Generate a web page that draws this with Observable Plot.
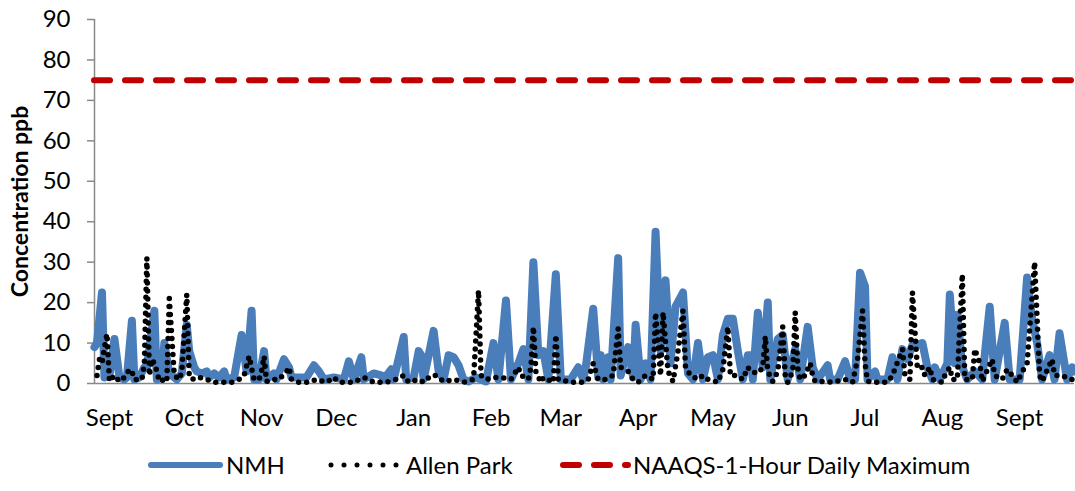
<!DOCTYPE html>
<html><head><meta charset="utf-8">
<script src="https://cdn.jsdelivr.net/npm/d3@7"></script>
<script src="https://cdn.jsdelivr.net/npm/@observablehq/plot@0.6"></script>
<style>
body{margin:0;background:#fff;font-family:Lato,sans-serif;}
#chart svg{display:block}
svg [aria-label="y-axis label"] text{font-weight:700;font-size:23px}
.legend{position:relative;height:51px;width:1075px;font-size:24px;color:#000;font-family:Lato,sans-serif}
.legend .it{position:absolute;top:10px;line-height:30px;white-space:nowrap}
.legend svg{position:absolute;top:11px}
</style></head><body>
<div id="chart"></div>
<div class="legend" id="legend"></div>
<script>
// x = day offset from Aug 26
const monthLabels = ["Sept","Oct","Nov","Dec","Jan","Feb","Mar","Apr","May","Jun","Jul","Aug","Sept"];
const monthDays = [6,36,67,97,128,159,187,218,248,279,309,340,371];
const yTicks = [0,10,20,30,40,50,60,70,80,90];
const seriesNames = ["NMH","Allen Park","NAAQS-1-Hour Daily Maximum"];

const nmhDay = [0,1,3,4,6,8,10,12,13,15,16,18,20,21,24,25,27,28,30,31,33,35,37,38,40,41,43,45,46,48,50,52,53,56,59,61,63,64,66,68,69,72,73,76,78,79,83,85,88,90,92,96,100,102,104,107,108,112,115,116,119,120,124,125,128,130,131,132,136,138,140,142,144,146,148,150,153,157,160,162,165,167,170,172,174,176,178,180,182,185,187,191,194,196,197,200,202,203,204,206,207,210,211,214,216,217,219,221,223,225,227,229,231,233,236,238,240,242,244,246,248,250,252,254,256,258,260,262,263,264,266,268,270,271,274,276,278,281,283,286,288,290,294,295,298,301,303,305,307,309,310,313,314,318,320,322,324,326,328,330,332,334,336,337,339,342,343,345,346,348,350,353,356,359,361,365,367,371,374,376,378,380,383,385,387,390,392,393];
const nmhValue = [9,10,22.5,1.5,2,11,1.5,1,1.5,15.5,1,1.5,4,4,18,1,1.5,10,2.5,2,1,2.5,14.5,8,4,3,2.5,3,1.5,2.5,1.5,3,1,1.5,12,3,18,1,1,8,1,2.5,1,6,4,1.5,1.5,1.5,4.5,3,1,1.5,1,5.5,1,6.5,1,2.5,2,1,3.5,1,11.5,1,1.5,8,7,1,13,3,1,7,6.5,4.5,1,0.5,1.5,0.5,10,1,20.5,1,5,8.5,1,30,7,8,1,27,1,1,4,1,4,18.5,1.5,7,1,6.5,1,31,2,9,1.5,14.5,1,5,1,37.5,8,25.5,5,19,22.5,2.5,1,10,1,6.5,7,1,12,16,16,8,1,7,7,1,17.5,4,20,1,11,12,1,8.5,1,14,4,1,4.5,1,1,5.5,1,1,27.4,24,1,3,1,1,6.5,1,8.5,6,9.5,9.5,10,4,1,4,1,5,22,5,17,4,1,3,1,19,1,15,1,1,26.2,16,10,1,7,1,12.4,1,4,3];

const apDay = [1,2,3,4,5,6,8,10,12,14,15,16,19,20,21,22,23,24,25,26,28,29,30,32,34,35,37,38,40,42,45,48,50,55,58,60,62,64,66,67,68,69,71,73,74,77,78,79,82,86,89,93,96,98,104,108,112,117,121,124,126,130,132,135,137,140,144,148,152,154,155,157,160,163,167,169,170,171,174,175,176,177,179,180,184,185,186,191,196,198,200,202,205,208,210,211,214,216,218,221,224,225,227,228,230,232,234,236,237,239,242,244,246,250,252,254,255,258,260,262,263,266,268,269,270,272,274,276,277,278,280,281,282,283,285,287,288,289,293,296,301,304,306,308,309,310,314,318,320,324,325,327,328,330,332,333,335,336,340,341,343,344,346,348,349,352,353,355,356,360,361,364,366,368,370,373,374,377,379,380,384,385,388,391,393];
const apValue = [2,6,5,9,12.3,0.5,2,0.5,1.5,3.5,3,1,1,5,31,2,6,5,3,0.5,1,0.5,21,2,1,3,22,1.5,1,1.5,1,0.3,0.3,0.3,1,2,6.7,1,1,3,6.7,0.5,1,1,1,3,4,1,0.3,0.3,1,0.3,1.5,0.3,0.3,1.5,0.3,0.3,1,2,0.3,1,0.3,2,2,0.5,1,0.3,1,23,2,1,1.5,1.5,1,3,4,2,1,4,14,3,0.3,1.5,0.3,12,1,0.3,0.3,1,5,1,1,2,13.6,4,3,1,0.3,2,1,17.5,2,17.6,3,0.5,8,18,4,2,1,2,1,0.3,3.5,14,2,2,1,4,3,2.5,4,11.6,3,0.5,3,14,2,0.3,3,17.6,4,1,2,5,2,0.5,0.5,0.3,1,0.3,6,18,5,0.5,0.3,0.3,2,8.5,2,1,22.5,3.7,4,2,4,1,0.3,2,4,1,1,27,1,1,8.5,5,0.5,6,2,1,3.5,2,0.3,4,5,30,2,0.5,6,2,2,1,1];

const naaqsValue = [75];

const nmh = nmhDay.map((d,i)=>({day:d,value:nmhValue[i]}));
const ap = apDay.map((d,i)=>({day:d,value:apValue[i]}));

const blue = "#4a7ebb", red = "#c00000", grey = "#898989";

const chart = Plot.plot({
  width:1075, height:440,
  marginLeft:94, marginRight:1, marginTop:19, marginBottom:57,
  style:{fontFamily:"Lato, sans-serif", fontSize:"24px", color:"#000", background:"#fff"},
  x:{domain:[0,393]},
  y:{domain:[0,90]},
  marks:[
    Plot.ruleY([0],{stroke:grey,strokeWidth:1.5}),
    Plot.ruleX([0],{stroke:grey,strokeWidth:1.5}),
    Plot.axisY({ticks:yTicks, tickSize:7, tickPadding:17, stroke:grey, strokeWidth:1.5, fontSize:24,
      label:"Concentration ppb", labelAnchor:"center", labelArrow:"none", labelOffset:83}),
    Plot.axisX({ticks:monthDays, tickFormat:d=>monthLabels[monthDays.indexOf(d)], tickSize:0, tickPadding:25, fontSize:24, label:null}),
    Plot.line(nmh,{x:"day",y:"value",stroke:blue,strokeWidth:8,strokeLinejoin:"round",strokeLinecap:"round"}),
    Plot.line(ap,{x:"day",y:"value",stroke:"#000",strokeWidth:5.5,strokeDasharray:"0 8",strokeLinecap:"round",strokeLinejoin:"round"}),
    Plot.ruleY(naaqsValue,{stroke:red,strokeWidth:6,strokeDasharray:"16 15",strokeLinecap:"round"})
  ]
});
document.getElementById("chart").append(chart);

// legend
const lg = document.getElementById("legend");
const ns = "http://www.w3.org/2000/svg";
function sw(left, w, attrs){
  const s = document.createElementNS(ns,"svg");
  s.setAttribute("width",w); s.setAttribute("height",28);
  s.style.left = left+"px";
  const l = document.createElementNS(ns,"line");
  for (const k in attrs) l.setAttribute(k, attrs[k]);
  l.setAttribute("y1",14); l.setAttribute("y2",14);
  s.append(l); lg.append(s);
}
function tx(left, t){
  const d = document.createElement("span"); d.className="it"; d.style.left=left+"px"; d.textContent=t; lg.append(d);
}
sw(146,80,{x1:5,x2:74,stroke:blue,"stroke-width":6,"stroke-linecap":"round"});
tx(226, seriesNames[0]);
sw(327,75,{x1:4,x2:70,stroke:"#000","stroke-width":5,"stroke-linecap":"round","stroke-dasharray":"0 13"});
tx(406, seriesNames[1]);
sw(556,80,{x1:7,x2:72,stroke:red,"stroke-width":6,"stroke-linecap":"round","stroke-dasharray":"16 15"});
tx(633, seriesNames[2]);
</script>
</body></html>
